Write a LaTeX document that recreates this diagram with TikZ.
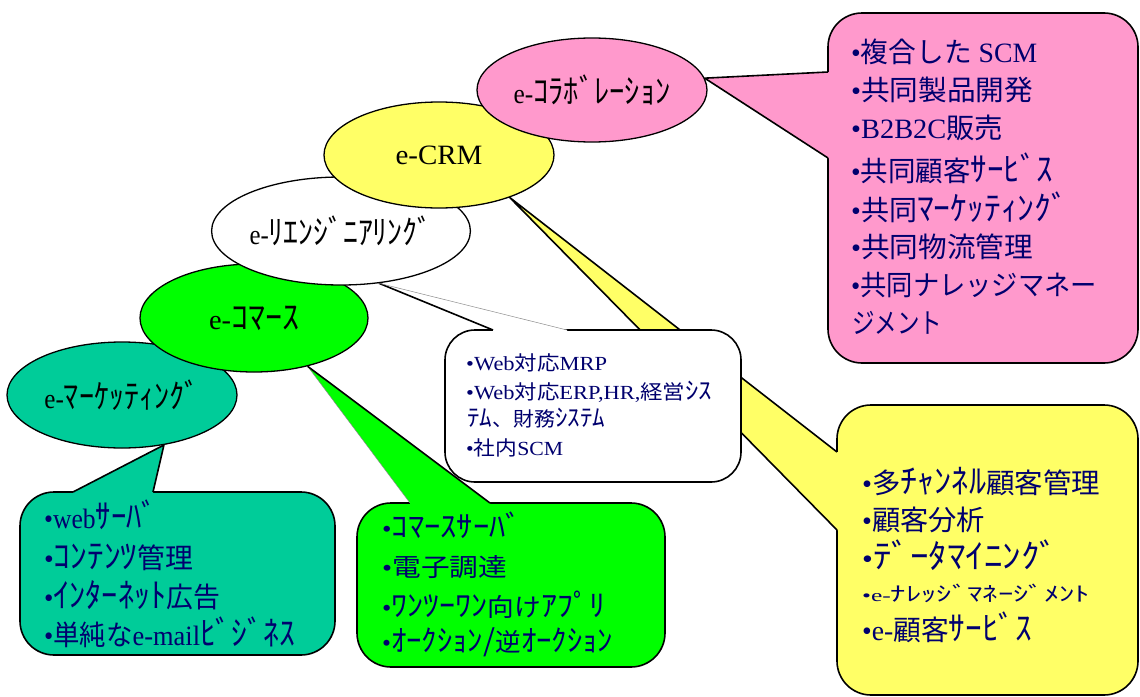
\documentclass[tikz,border=0pt]{standalone}
\usepackage{fontspec}
\usepackage{graphicx}
\setmainfont{Liberation Serif}
\newfontfamily\jp{Noto Sans CJK JP}
% half-width katakana: set a little larger
\newfontfamily\jpk[Scale=1.2]{Noto Sans CJK JP}
\usetikzlibrary{shapes.geometric}
\pgfdeclarelayer{bg}
\pgfsetlayers{bg,main}
\definecolor{pinkc}{RGB}{255,153,204}
\definecolor{yelc}{RGB}{255,255,102}
\definecolor{grnc}{RGB}{0,255,0}
\definecolor{tealc}{RGB}{0,204,153}
\definecolor{navy}{RGB}{0,0,110}
% scale a line of text to a given width, keeping its height
\newcommand{\fitw}[2]{\resizebox{#1pt}{\height}{#2}}
\newcommand{\J}[1]{{\jp #1}}
\newcommand{\K}[1]{{\jpk #1}}

\begin{document}
\begin{tikzpicture}[x=1pt,y=-1pt,
  oval/.style={ellipse, draw=black, line width=1.3pt, inner sep=0pt,
    font=\fontsize{28}{30}\selectfont, text=black},
  callout/.style={rectangle, rounded corners=34pt, draw=black,
    line width=1.6pt, inner sep=0pt},
  rim/.style={draw=black, line width=1.6pt, line join=round},
  hair/.style={draw=black!45, line width=0.5pt},
  item/.style={anchor=west, inner sep=0pt, text=navy},
  bigt/.style={item, font=\fontsize{28}{30}\selectfont},
  midt/.style={item, font=\fontsize{25}{27}\selectfont},
  smallt/.style={item, font=\fontsize{20}{22}\selectfont},
  tinyt/.style={item, font=\fontsize{17}{19}\selectfont},
]
\useasboundingbox (0,0) rectangle (1140,696);

% the five stages, lowest first so each one overlaps the previous
\node[oval, fill=tealc, minimum width=230pt, minimum height=106pt] (emkt) at (122,395)
  {\fitw{155}{e-\K{ﾏｰｹｯﾃｨﾝｸﾞ}}};
\node[oval, fill=grnc, minimum width=228pt, minimum height=108pt] (ecom) at (254,318)
  {\fitw{90}{e-\K{ｺﾏｰｽ}}};
\node[oval, fill=white, minimum width=230pt, minimum height=108pt] (reeng) at (341,231)
  {\fitw{183}{e-\K{ﾘｴﾝｼﾞﾆｱﾘﾝｸﾞ}}};
\node[oval, fill=yelc, minimum width=230pt, minimum height=106pt] (crm) at (439,155)
  {\fitw{87}{e-CRM}};
\node[oval, fill=pinkc, minimum width=230pt, minimum height=104pt] (collab) at (592,90)
  {\fitw{157}{e-\K{ｺﾗﾎﾞﾚｰｼｮﾝ}}};

\begin{pgfonlayer}{bg}
  % e-marketing callout
  \node[callout, fill=tealc, minimum width=315pt, minimum height=163pt] (tbox) at (177.5,573.5) {};
  \coordinate (tb1) at (73,492);
  \coordinate (tb2) at (153,492);
  \fill[tealc] (emkt.-50) -- (tb1) -- ([yshift=-3pt]tb1) -- ([yshift=-3pt]tb2) -- (tb2) -- cycle;
  \draw[rim] (tb1) -- (emkt.-50) -- (tb2);

  % e-commerce callout
  \node[callout, fill=grnc, minimum width=308pt, minimum height=164pt] (gbox) at (511,585) {};
  \coordinate (gb1) at (410,503);
  \coordinate (gb2) at (490,503);
  \fill[grnc] (ecom.-42) -- (gb1) -- ([yshift=-3pt]gb1) -- ([yshift=-3pt]gb2) -- (gb2) -- cycle;
  \draw[hair] (ecom.-42) -- (gb1);
  \draw[rim] (ecom.-42) -- (gb2);

  % e-CRM callout
  \node[callout, fill=yelc, minimum width=301pt, minimum height=290pt] (ybox) at (987.5,550) {};
  \coordinate (yb1) at (837,452);
  \coordinate (yb2) at (837,530);
  \fill[yelc] (crm.-31) -- (yb1) -- ([xshift=3pt]yb1) -- ([xshift=3pt]yb2) -- (yb2) -- cycle;
  \draw[rim] (yb1) -- (crm.-31) -- (yb2);

  % e-reengineering callout
  \node[callout, rounded corners=30pt, fill=white, minimum width=296pt, minimum height=152pt] (wbox) at (593,406) {};
  \coordinate (wb1) at (493,330);
  \coordinate (wb2) at (567,330);
  \fill[white] (reeng.-54) -- (wb1) -- ([yshift=-3pt]wb1) -- ([yshift=-3pt]wb2) -- (wb2) -- cycle;
  \draw[rim] (reeng.-54) -- (wb1);
  \draw[hair] (reeng.-54) -- (wb2);

  % e-collaboration callout
  \node[callout, fill=pinkc, minimum width=310pt, minimum height=350pt] (pbox) at (983,188) {};
  \coordinate (pb1) at (828,72);
  \coordinate (pb2) at (828,158);
  \fill[pinkc] (collab.6) -- (pb1) -- ([xshift=3pt]pb1) -- ([xshift=3pt]pb2) -- (pb2) -- cycle;
  \draw[rim] (pb1) -- (collab.6) -- (pb2);
\end{pgfonlayer}

% e-collaboration items
\node[bigt] (p1) at (851,52)  {\fitw{186}{•\J{複合した} SCM}};
\node[bigt] (p2) at (851,90)  {\fitw{182}{•\J{共同製品開発}}};
\node[bigt] (p3) at (851,128) {\fitw{152}{•B2B2C\J{販売}}};
\node[bigt] (p4) at (851,168) {\fitw{202}{•\J{共同顧客}\K{ｻｰﾋﾞｽ}}};
\node[bigt] (p5) at (851,207) {\fitw{217}{•\J{共同}\K{ﾏｰｹｯﾃｨﾝｸﾞ}}};
\node[bigt] (p6) at (851,247) {\fitw{182}{•\J{共同物流管理}}};
\node[bigt] (p7) at (851,285) {\fitw{246}{•\J{共同ナレッジマネー}}};
\node[bigt] (p8) at (852,323) {\fitw{90}{\J{ジメント}}};

% e-CRM items
\node[bigt]  (y1) at (862,482) {\fitw{238}{•\J{多}\K{ﾁｬﾝﾈﾙ}\J{顧客管理}}};
\node[bigt]  (y2) at (862,520) {\fitw{123}{•\J{顧客分析}}};
\node[bigt]  (y3) at (862,555) {\fitw{196}{•\K{ﾃﾞｰﾀﾏｲﾆﾝｸﾞ}}};
\node[tinyt] (y4) at (862,593) {\fitw{228}{•e-\K{ﾅﾚｯｼﾞﾏﾈｰｼﾞﾒﾝﾄ}}};
\node[bigt]  (y5) at (862,627) {\fitw{170}{•e-\J{顧客}\K{ｻｰﾋﾞｽ}}};

% e-reengineering items
\node[smallt] (w1) at (466,363) {\fitw{141}{•Web\J{対応}MRP}};
\node[smallt] (w2) at (466,392) {\fitw{246}{•Web\J{対応}ERP,HR,\J{経営}\K{ｼｽ}}};
\node[smallt] (w3) at (467,418) {\fitw{138}{\K{ﾃﾑ}\J{、財務}\K{ｼｽﾃﾑ}}};
\node[smallt] (w4) at (466,448) {\fitw{97}{•\J{社内}SCM}};

% e-commerce items
\node[midt] (g1) at (382,525) {\fitw{140}{•\K{ｺﾏｰｽｻｰﾊﾞ}}};
\node[midt] (g2) at (382,567) {\fitw{125}{•\J{電子調達}}};
\node[midt] (g3) at (382,605) {\fitw{223}{•\K{ﾜﾝﾂｰﾜﾝ}\J{向け}\K{ｱﾌﾟﾘ}}};
\node[midt] (g4) at (382,642) {\fitw{231}{•\K{ｵｰｸｼｮﾝ/}\J{逆}\K{ｵｰｸｼｮﾝ}}};

% e-marketing items
\node[bigt] (t1) at (44,515) {\fitw{113}{•web\K{ｻｰﾊﾞ}}};
\node[bigt] (t2) at (44,557) {\fitw{149}{•\K{ｺﾝﾃﾝﾂ}\J{管理}}};
\node[bigt] (t3) at (44,595) {\fitw{176}{•\K{ｲﾝﾀｰﾈｯﾄ}\J{広告}}};
\node[bigt] (t4) at (44,632) {\fitw{251}{•\J{単純な}e-mail\K{ﾋﾞｼﾞﾈｽ}}};
\end{tikzpicture}
\end{document}
